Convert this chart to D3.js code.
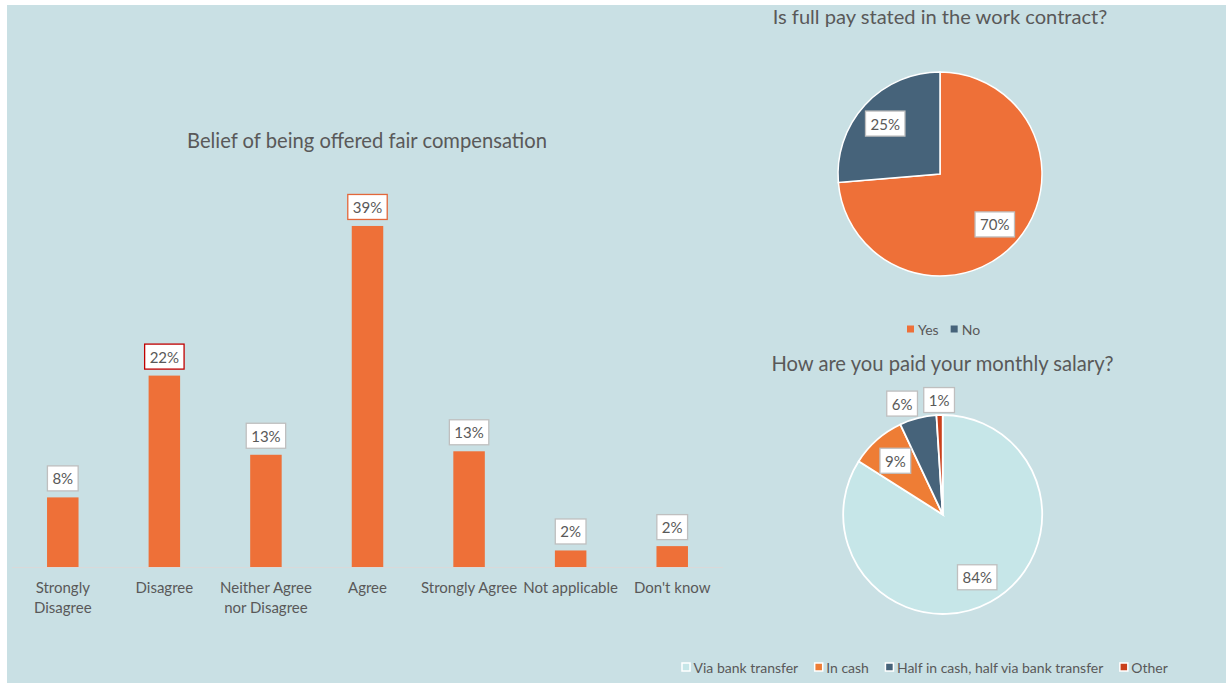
<!DOCTYPE html>
<html>
<head>
<meta charset="utf-8">
<script src="https://cdn.jsdelivr.net/npm/d3@7"></script>
<style>
  html, body { margin: 0; padding: 0; background: #ffffff; }
  svg { display: block; }
  text { font-family: Lato, "Open Sans", sans-serif; fill: #595959; }
</style>
</head>
<body>
<svg id="chart" width="1228" height="687"></svg>
<script>
// Bar chart: belief of being offered fair compensation (% of respondents)
const fairCategories = [
  ["Strongly", "Disagree"],
  ["Disagree"],
  ["Neither Agree", "nor Disagree"],
  ["Agree"],
  ["Strongly Agree"],
  ["Not applicable"],
  ["Don't know"]
];
const fairValues = [8.0, 22.0, 12.9, 39.2, 13.3, 1.9, 2.4];
const fairLabelBorders = ["#bfbfbf", "#c00000", "#bfbfbf", "#e2673a", "#bfbfbf", "#bfbfbf", "#bfbfbf"];

// Pie 1: is full pay stated in the work contract?
const contractCategories = ["Yes", "No"];
const contractValues = [70, 25];
const contractColors = ["#ee7038", "#46637a"];

// Pie 2: how are you paid your monthly salary?
const payCategories = ["Via bank transfer", "In cash", "Half in cash, half via bank transfer", "Other"];
const payValues = [84, 9, 6, 1];
const payColors = ["#c6e6e8", "#ee7d35", "#46637a", "#c9401b"];

const svg = d3.select("#chart");

// panel background
svg.append("rect")
  .attr("x", 7).attr("y", 5)
  .attr("width", 1219).attr("height", 678)
  .attr("fill", "#c9e0e4");

// ---------- bar chart ----------
const x = d3.scaleBand()
  .domain(d3.range(fairValues.length))
  .range([12, 723])
  .paddingInner(0.69)
  .paddingOuter(0.345);

const y = d3.scaleLinear().domain([0, 45]).range([567, 175.5]);

svg.append("text")
  .attr("x", 367).attr("y", 148)
  .attr("text-anchor", "middle")
  .style("font-size", "20.2px")
  .text("Belief of being offered fair compensation");

const bars = svg.append("g");
bars.selectAll("rect")
  .data(fairValues)
  .join("rect")
  .attr("x", (d, i) => x(i))
  .attr("width", x.bandwidth())
  .attr("y", d => y(d))
  .attr("height", d => y(0) - y(d))
  .attr("fill", "#ee7038");

// category axis line
svg.append("line")
  .attr("x1", 12).attr("x2", 723)
  .attr("y1", 567.5).attr("y2", 567.5)
  .attr("stroke", "#d9d9d9").attr("stroke-width", 1);

// category labels
const catG = svg.append("g");
fairCategories.forEach((lines, i) => {
  const t = catG.append("text")
    .attr("x", x(i) + x.bandwidth() / 2)
    .attr("y", 593)
    .attr("text-anchor", "middle")
    .style("font-size", "15px");
  lines.forEach((ln, j) => {
    t.append("tspan")
      .attr("x", x(i) + x.bandwidth() / 2)
      .attr("dy", j === 0 ? 0 : 19.5)
      .text(ln);
  });
});

// boxed value label helper
function boxedLabel(g, cx, cy, txt, border) {
  const lg = g.append("g");
  const t = lg.append("text")
    .attr("x", cx).attr("y", cy)
    .attr("text-anchor", "middle")
    .attr("dominant-baseline", "central")
    .style("font-size", "15px")
    .text(txt);
  const bb = t.node().getBBox();
  const padX = 5, h = 25;
  lg.insert("rect", "text")
    .attr("x", cx - bb.width / 2 - padX)
    .attr("y", cy - h / 2)
    .attr("width", bb.width + padX * 2)
    .attr("height", h)
    .attr("fill", "#ffffff")
    .attr("stroke", border)
    .attr("stroke-width", 1.3);
  return lg;
}

const barLabels = svg.append("g");
fairValues.forEach((v, i) => {
  boxedLabel(barLabels, x(i) + x.bandwidth() / 2, y(v) - 19, Math.round(v) + "%", fairLabelBorders[i]);
});

// ---------- pie 1 ----------
const pie = d3.pie().sort(null).value(d => d);

svg.append("text")
  .attr("x", 940).attr("y", 24)
  .attr("text-anchor", "middle")
  .style("font-size", "20.1px")
  .text("Is full pay stated in the work contract?");

const r1 = 102;
const pie1 = svg.append("g").attr("transform", "translate(940,174)");
const arc1 = d3.arc().innerRadius(0).outerRadius(r1);
const lab1 = d3.arc().innerRadius(r1 * 0.73).outerRadius(r1 * 0.73);
const arcs1 = pie(contractValues);
pie1.selectAll("path")
  .data(arcs1)
  .join("path")
  .attr("d", arc1)
  .attr("fill", (d, i) => contractColors[i])
  .attr("stroke", "#ffffff")
  .attr("stroke-width", 1.5);
arcs1.forEach(a => {
  const [cx, cy] = lab1.centroid(a);
  boxedLabel(pie1, cx, cy, a.data + "%", "#bfbfbf");
});

// legend 1
const leg1 = svg.append("g").attr("transform", "translate(907,329)");
let lx = 0;
contractCategories.forEach((c, i) => {
  leg1.append("rect")
    .attr("x", lx).attr("y", -3.5)
    .attr("width", 7).attr("height", 7)
    .attr("fill", contractColors[i]);
  const t = leg1.append("text")
    .attr("x", lx + 11).attr("y", 0)
    .attr("dominant-baseline", "central")
    .style("font-size", "14px")
    .text(c);
  lx += 11 + t.node().getComputedTextLength() + 12;
});

// ---------- pie 2 ----------
svg.append("text")
  .attr("x", 942.5).attr("y", 371)
  .attr("text-anchor", "middle")
  .style("font-size", "20.2px")
  .text("How are you paid your monthly salary?");

const r2 = 99.5;
const pie2 = svg.append("g").attr("transform", "translate(942.7,514.5)");
const arc2 = d3.arc().innerRadius(0).outerRadius(r2);
const lab2 = d3.arc().innerRadius(r2 * 0.72).outerRadius(r2 * 0.72);
const arcs2 = pie(payValues);
pie2.selectAll("path")
  .data(arcs2)
  .join("path")
  .attr("d", arc2)
  .attr("fill", (d, i) => payColors[i])
  .attr("stroke", "#ffffff")
  .attr("stroke-width", 1.8);

// inside labels for large slices, outside-end labels for thin ones
const outside = [];
arcs2.forEach(a => {
  const share = (a.endAngle - a.startAngle) / (2 * Math.PI);
  if (share >= 0.08) {
    const [cx, cy] = lab2.centroid(a);
    boxedLabel(pie2, cx, cy, a.data + "%", "#bfbfbf");
  } else {
    const mid = (a.startAngle + a.endAngle) / 2;
    outside.push({ a, mid, cx: Math.sin(mid) * (r2 + 15), cy: -Math.cos(mid) * (r2 + 15) });
  }
});
// push overlapping outside labels apart horizontally
for (let k = outside.length - 2; k >= 0; k--) {
  const next = outside[k + 1], cur = outside[k];
  const minGap = 37;
  if (next.cx - cur.cx < minGap) cur.cx = next.cx - minGap;
}
outside.forEach(o => boxedLabel(pie2, o.cx, o.cy, o.a.data + "%", "#bfbfbf"));

// legend 2
const leg2 = svg.append("g").attr("transform", "translate(681.5,667)");
lx = 0;
payCategories.forEach((c, i) => {
  leg2.append("rect")
    .attr("x", lx + 0.5).attr("y", -4)
    .attr("width", 8).attr("height", 8)
    .attr("fill", payColors[i])
    .attr("stroke", "#ffffff").attr("stroke-width", 1.5);
  const t = leg2.append("text")
    .attr("x", lx + 12).attr("y", 0)
    .attr("dominant-baseline", "central")
    .style("font-size", "14px")
    .text(c);
  lx += 12 + t.node().getComputedTextLength() + 16;
});
</script>
</body>
</html>
